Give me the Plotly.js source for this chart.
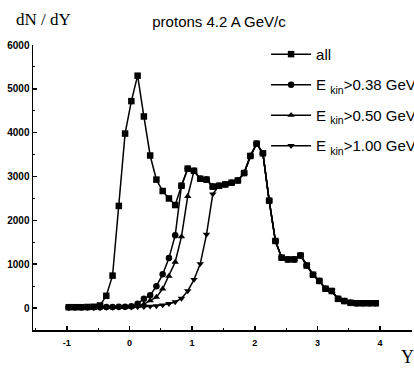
<!DOCTYPE html>
<html>
<head>
<meta charset="utf-8">
<script src="https://cdn.plot.ly/plotly-3.0.1.min.js"></script>
<style>html,body{margin:0;padding:0;background:#fff;}#chart{width:414px;height:368px;}</style>
</head>
<body>
<div id="chart"></div>
<script>
// Rapidity grid (Y)
const rapidity = [-0.97,-0.87,-0.77,-0.67,-0.57,-0.47,-0.37,-0.27,-0.17,-0.07,
  0.03,0.13,0.23,0.33,0.43,0.53,0.63,0.73,0.83,0.93,
  1.03,1.13,1.23,1.33,1.43,1.53,1.63,1.73,1.83,1.93,
  2.03,2.13,2.23,2.33,2.43,2.53,2.63,2.73,2.83,2.93,
  3.03,3.13,3.23,3.33,3.43,3.53,3.63,3.73,3.83,3.93];

// dN/dY, all protons
const dndyAll = [20,20,20,25,30,60,280,740,2330,3980,
  4720,5300,4370,3480,2930,2670,2500,2350,2790,3180,
  3130,2950,2930,2770,2790,2820,2860,2910,3080,3470,
  3750,3530,2450,1530,1150,1110,1110,1200,970,760,
  620,440,390,210,160,120,110,110,110,110];

// dN/dY, Ekin > 0.38 GeV
const dndyE038 = [20,20,20,20,20,20,25,25,30,30,
  40,100,210,290,500,770,1140,1660,2790,3180,
  3130,2950,2930,2770,2790,2820,2860,2910,3080,3470,
  3750,3530,2450,1530,1150,1110,1110,1200,970,760,
  620,440,390,210,160,120,110,110,110,110];

// dN/dY, Ekin > 0.50 GeV
const dndyE050 = [15,15,15,15,15,20,20,20,20,25,
  30,50,90,170,250,440,730,1050,1630,2550,
  3130,2950,2930,2770,2790,2820,2860,2910,3080,3470,
  3750,3530,2450,1530,1150,1110,1110,1200,970,760,
  620,440,390,210,160,120,110,110,110,110];

// dN/dY, Ekin > 1.00 GeV
const dndyE100 = [10,10,10,10,10,10,15,15,15,20,
  20,25,30,40,50,70,100,140,220,390,
  650,1010,1680,2600,2790,2820,2860,2910,3080,3470,
  3750,3530,2450,1530,1150,1110,1110,1200,970,760,
  620,440,390,210,160,120,110,110,110,110];

const seriesNames = ['all', 'E <sub>kin</sub>&gt;0.38 GeV', 'E <sub>kin</sub>&gt;0.50 GeV', 'E <sub>kin</sub>&gt;1.00 GeV'];
const seriesValues = [dndyAll, dndyE038, dndyE050, dndyE100];
const seriesSymbols = ['square', 'circle', 'triangle-up', 'triangle-down'];

const xTicks = [-1, 0, 1, 2, 3, 4];
const xTickText = ['-1', '0', '1', '2', '3', '4'];
const yTicks = [0, 1000, 2000, 3000, 4000, 5000, 6000];
const yTickText = ['0', '1000', '2000', '3000', '4000', '5000', '6000'];

const traces = seriesValues.map((vals, i) => ({
  x: rapidity,
  y: vals,
  name: seriesNames[i],
  type: 'scatter',
  mode: 'lines+markers',
  legendgroup: 'g' + i,
  line: {color: '#000', width: 1.5},
  marker: {color: '#000', symbol: seriesSymbols[i], size: 6.5}
}));

const sans = 'Liberation Sans, Arial, sans-serif';
const serif = 'Liberation Serif, Times New Roman, serif';

const layout = {
  width: 414, height: 368,
  margin: {l: 33, r: 2, t: 45, b: 38, autoexpand: false},
  paper_bgcolor: '#fff', plot_bgcolor: '#fff',
  showlegend: true,
  legend: {
    x: 0.615, y: 1.025, xanchor: 'left', yanchor: 'top',
    bgcolor: 'rgba(0,0,0,0)', borderwidth: 0,
    font: {family: sans, size: 15, color: '#000'},
    itemwidth: 40, traceorder: 'grouped', tracegroupgap: 8
  },
  title: {
    text: 'protons 4.2 A GeV/c',
    font: {family: sans, size: 15, color: '#000'},
    xref: 'container', yref: 'container',
    x: 0.529, y: 0.94, xanchor: 'center', yanchor: 'middle'
  },
  xaxis: {
    range: [-1.54, 4.51],
    tickmode: 'array', tickvals: xTicks, ticktext: xTickText,
    ticks: 'inside', ticklen: 4, tickwidth: 1.5, tickcolor: '#000',
    minor: {ticks: 'inside', ticklen: 2, tickwidth: 1, tickcolor: '#000', dtick: 0.5, tick0: 0, showgrid: false},
    showline: true, linewidth: 1.5, linecolor: '#000',
    showgrid: false, zeroline: false,
    ticklabelstandoff: 4,
    tickfont: {family: sans, size: 9, color: '#000', weight: 'bold'}
  },
  yaxis: {
    range: [-500, 6000],
    tickmode: 'array', tickvals: yTicks, ticktext: yTickText,
    ticks: 'inside', ticklen: 4, tickwidth: 1.5, tickcolor: '#000',
    minor: {ticks: 'inside', ticklen: 2, tickwidth: 1, tickcolor: '#000', dtick: 500, tick0: 0, showgrid: false},
    showline: true, linewidth: 1.5, linecolor: '#000',
    showgrid: false, zeroline: false,
    tickfont: {family: sans, size: 10, color: '#000', weight: 'bold'}
  },
  annotations: [
    {text: 'dN / dY', xref: 'paper', yref: 'paper', x: (14 - 33) / 379, y: (330 - 20) / 285,
     xanchor: 'left', yanchor: 'middle', showarrow: false,
     font: {family: serif, size: 17, color: '#000'}},
    {text: 'Y', xref: 'paper', yref: 'paper', x: (407 - 33) / 379, y: (330 - 357) / 285,
     xanchor: 'center', yanchor: 'middle', showarrow: false,
     font: {family: serif, size: 18, color: '#000'}}
  ]
};

Plotly.newPlot('chart', traces, layout, {displayModeBar: false, staticPlot: true});
</script>
</body>
</html>
